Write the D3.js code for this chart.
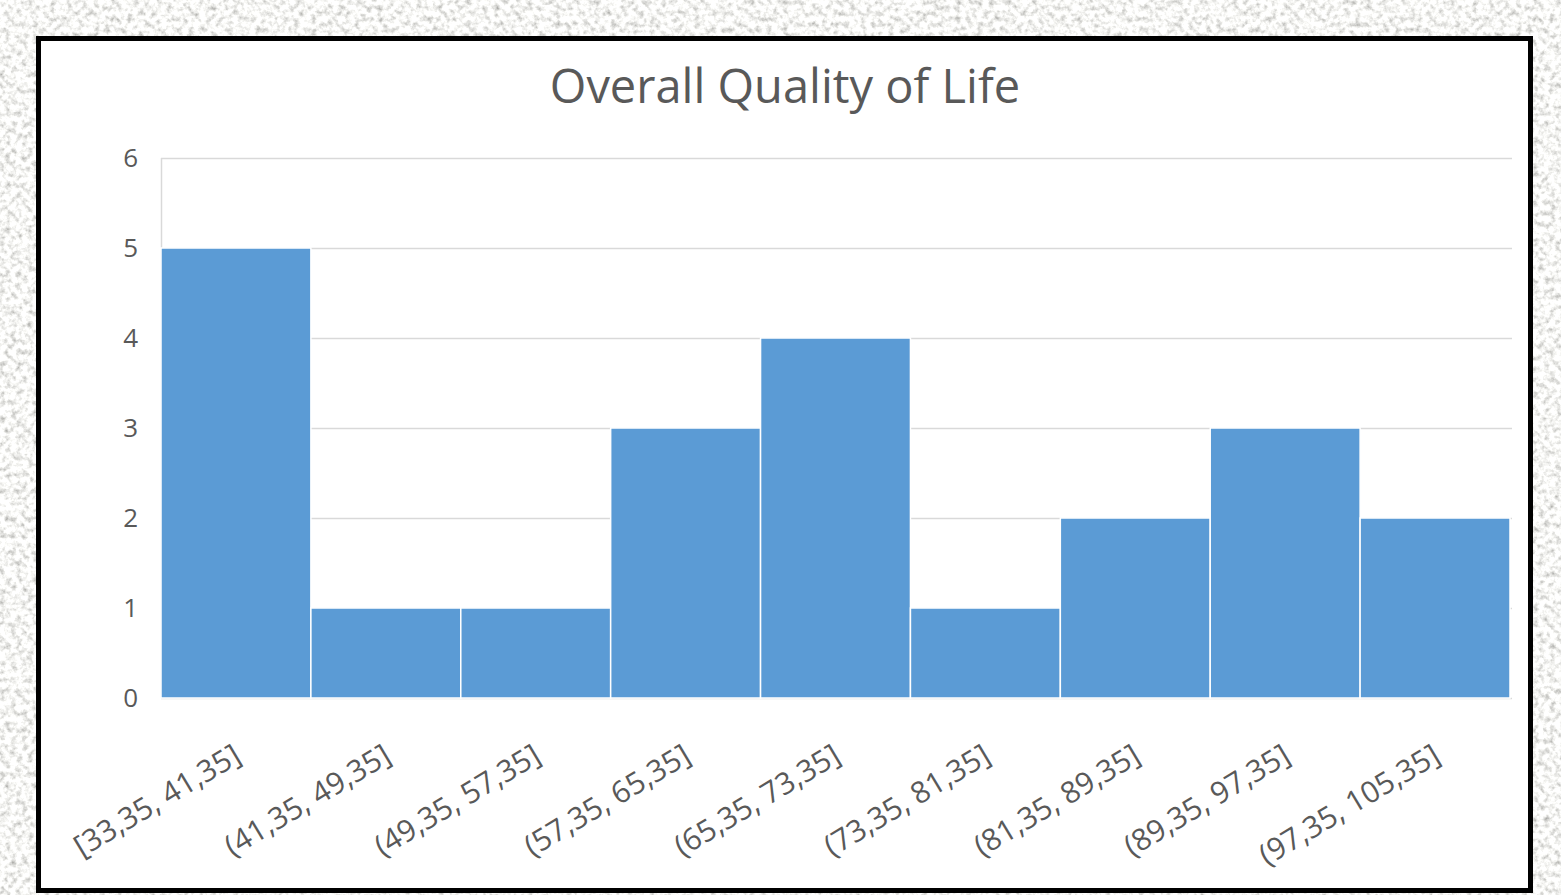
<!DOCTYPE html>
<html>
<head>
<meta charset="utf-8">
<script src="https://cdn.jsdelivr.net/npm/d3@7"></script>
<style>
  body { margin: 0; overflow: hidden; }
  svg { display: block; }
  text { font-family: "Open Sans", "Noto Sans", sans-serif; fill: #595959; }
</style>
</head>
<body>
<svg id="chart"></svg>
<script>
// histogram bins and counts
const bins = ["[33,35, 41,35]", "(41,35, 49,35]", "(49,35, 57,35]", "(57,35, 65,35]",
  "(65,35, 73,35]", "(73,35, 81,35]", "(81,35, 89,35]", "(89,35, 97,35]", "(97,35, 105,35]"];
const counts = [5, 1, 1, 3, 4, 1, 2, 3, 2];
const yTicks = [0, 1, 2, 3, 4, 5, 6];
const chartTitle = "Overall Quality of Life";

const W = 1561, H = 895;
const svg = d3.select("#chart").attr("width", W).attr("height", H);

// speckled paper background
const defs = svg.append("defs");
const f = defs.append("filter").attr("id", "paper")
  .attr("x", 0).attr("y", 0).attr("width", "100%").attr("height", "100%");
f.append("feTurbulence").attr("type", "fractalNoise")
  .attr("baseFrequency", 0.18).attr("numOctaves", 3).attr("seed", 7);
f.append("feColorMatrix").attr("type", "matrix")
  .attr("values", "1.2 0 0 0 0.33  1.2 0 0 0 0.33  1.2 0 0 0 0.31  0 0 0 0 1");
svg.append("rect").attr("width", W).attr("height", H).attr("fill", "#f2f2f0");
svg.append("rect").attr("width", W).attr("height", H).attr("filter", "url(#paper)");

// white panel with black frame
svg.append("rect")
  .attr("x", 38.5).attr("y", 38.5).attr("width", 1492).attr("height", 852)
  .attr("fill", "#fff").attr("stroke", "#000").attr("stroke-width", 5);

const margin = { left: 161, right: 1510, top: 158, bottom: 698 };

const x = d3.scaleBand().domain(bins).range([margin.left, margin.right]).padding(0);
const y = d3.scaleLinear().domain([0, 6]).range([margin.bottom, margin.top]);

// gridlines
svg.append("g").selectAll("line")
  .data(yTicks)
  .join("line")
    .attr("x1", margin.left).attr("x2", 1512)
    .attr("y1", d => y(d) + 0.5).attr("y2", d => y(d) + 0.5)
    .attr("stroke", "#d9d9d9").attr("stroke-width", 1.5);

// y axis line
svg.append("line")
  .attr("x1", margin.left + 0.5).attr("x2", margin.left + 0.5)
  .attr("y1", y(6)).attr("y2", y(0))
  .attr("stroke", "#d9d9d9").attr("stroke-width", 1.5);

// bars
svg.append("g").selectAll("rect")
  .data(counts)
  .join("rect")
    .attr("x", (d, i) => x(bins[i]))
    .attr("y", d => y(d))
    .attr("width", x.bandwidth())
    .attr("height", d => y(0) - y(d))
    .attr("fill", "#5b9bd5")
    .attr("stroke", "#fff").attr("stroke-width", 1.5);

// y tick labels
svg.append("g").selectAll("text")
  .data(yTicks)
  .join("text")
    .attr("x", 138).attr("y", d => y(d))
    .attr("dy", "0.36em")
    .attr("text-anchor", "end")
    .style("font-size", "26px")
    .text(d => d);

// x tick labels, rotated
svg.append("g").selectAll("text")
  .data(bins)
  .join("text")
    .attr("text-anchor", "end")
    .style("font-size", "30px")
    .attr("transform", d => `translate(${x(d) + x.bandwidth() / 2 + 7}, 761) rotate(-31)`)
    .text(d => d);

// title
svg.append("text")
  .attr("x", 785).attr("y", 103)
  .attr("text-anchor", "middle")
  .style("font-size", "47px")
  .text(chartTitle);
</script>
</body>
</html>
